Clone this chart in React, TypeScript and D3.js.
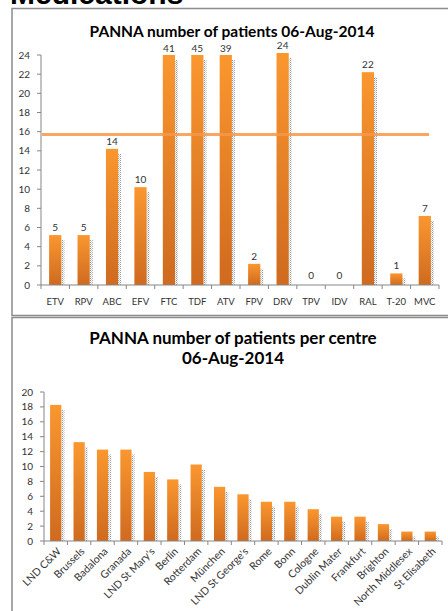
import React from "react";
import * as d3 from "d3";

const drugs = ["ETV","RPV","ABC","EFV","FTC","TDF","ATV","FPV","DRV","TPV","IDV","RAL","T-20","MVC"];
const drugPatients = [5,5,14,10,41,45,39,2,24,0,0,22,1,7];
const drugTicks = [0,2,4,6,8,10,12,14,16,18,20,22,24];
const drugMax = 24;
const referenceLine = 15.7;

const centres = ["LND C&W","Brussels","Badalona","Granada","LND St Mary's","Berlin","Rotterdam","München","LND St George's","Rome","Bonn","Cologne","Dublin Mater","Frankfurt","Brighton","North Middlesex","St Elisabeth"];
const centrePatients = [18,13,12,12,9,8,10,7,6,5,5,4,3,3,2,1,1];
const centreTicks = [0,2,4,6,8,10,12,14,16,18,20];
const centreMax = 20;

const FONT = "Lato, 'Liberation Sans', Arial, sans-serif";
const AXIS = "#868686";
const TXT = "#333";

function Bars({cats, vals, x, y, max, showLabels}) {
  const bw = x.bandwidth();
  const y0 = y(0);
  return (
    <g>
      {cats.map((c, i) => {
        const v = Math.min(vals[i], max);
        if (vals[i] <= 0) return null;
        const bx = x(c);
        const top = y(v) - (vals[i] > max ? 0 : 2);
        return (
          <g key={c}>
            <rect x={bx + bw} y={top + 5} width={3} height={y0 - top - 5} fill="url(#dots)" />
            <rect x={bx} y={top} width={bw} height={y0 - top} fill="url(#barGrad)" />
          </g>
        );
      })}
      {showLabels && cats.map((c, i) => {
        const clipped = vals[i] > max;
        const v = Math.min(vals[i], max);
        const ty = clipped ? y(v) - 3 : y(v) - 6;
        return (
          <text key={"l" + c} x={x(c) + bw / 2} y={ty} textAnchor="middle" fontSize={10} fill={TXT} fontFamily={FONT}>{vals[i]}</text>
        );
      })}
    </g>
  );
}

function YAxis({y, ticks, x0}) {
  return (
    <g>
      <line x1={x0} x2={x0} y1={y(ticks[ticks.length - 1])} y2={y(0)} stroke={AXIS} strokeWidth={1} />
      {ticks.map(t => (
        <g key={t}>
          <line x1={x0 - 4} x2={x0} y1={y(t)} y2={y(t)} stroke={AXIS} />
          <text x={x0 - 11} y={y(t) + 3.5} textAnchor="end" fontSize={10} fill={TXT} fontFamily={FONT}>{t}</text>
        </g>
      ))}
    </g>
  );
}

function XAxis({x, cats, y0}) {
  const r = x.range();
  const step = x.step();
  const edges = d3.range(cats.length + 1).map(i => r[0] + i * step);
  return (
    <g>
      <line x1={r[0]} x2={r[1]} y1={y0} y2={y0} stroke={AXIS} strokeWidth={1} />
      {edges.map((e, i) => (
        <line key={i} x1={e} x2={e} y1={y0} y2={y0 + 4} stroke={AXIS} />
      ))}
    </g>
  );
}

export default function App() {
  const x1 = d3.scaleBand().domain(drugs).range([41, 439]).paddingInner(0.57).paddingOuter(0.285);
  const y1 = d3.scaleLinear().domain([0, drugMax]).range([285, 55]);
  const x2 = d3.scaleBand().domain(centres).range([44, 442]).paddingInner(0.52).paddingOuter(0.26);
  const y2 = d3.scaleLinear().domain([0, centreMax]).range([541, 392]);

  return (
    <svg width={448} height={611} style={{position: "absolute", left: 0, top: 0, background: "#fff"}}>
      <defs>
        <linearGradient id="barGrad" x1="0" y1="0" x2="0" y2="1">
          <stop offset="0%" stopColor="#FA972F" />
          <stop offset="100%" stopColor="#CF6A1F" />
        </linearGradient>
        <pattern id="dots" width={2} height={2} patternUnits="userSpaceOnUse">
          <rect x={0} y={0} width={1} height={1} fill="#9a9a9a" />
          <rect x={1} y={1} width={1} height={1} fill="#d0d0d0" />
        </pattern>
      </defs>
      <rect width={448} height={611} fill="#fff" />
      <text x={10} y={4} fontSize={30} fontWeight="bold" fill="#000" fontFamily="'Liberation Sans', Arial, sans-serif">Medications</text>

      <rect x={12} y={8.5} width={460} height={307} fill="none" stroke="#8c8c8c" strokeWidth={1.5} />
      <rect x={12} y={317.5} width={460} height={310} fill="none" stroke="#8c8c8c" strokeWidth={1.5} />

      <text x={232} y={37} textAnchor="middle" fontSize={15.5} fontWeight="bold" fill="#000" fontFamily={FONT}>PANNA number of patients 06-Aug-2014</text>
      <YAxis y={y1} ticks={drugTicks} x0={41} />
      <Bars cats={drugs} vals={drugPatients} x={x1} y={y1} max={drugMax} showLabels={true} />
      <XAxis x={x1} cats={drugs} y0={285} />
      {drugs.map(c => (
        <text key={c} x={x1(c) + x1.bandwidth() / 2} y={305} textAnchor="middle" fontSize={9.5} fill={TXT} fontFamily={FONT}>{c}</text>
      ))}
      <line x1={42} x2={429} y1={y1(referenceLine)} y2={y1(referenceLine)} stroke="#F79646" strokeOpacity={0.85} strokeWidth={3} />

      <text x={233} y={344} textAnchor="middle" fontSize={17} fontWeight="bold" fill="#000" fontFamily={FONT}>PANNA number of patients per centre</text>
      <text x={233} y={364} textAnchor="middle" fontSize={17} fontWeight="bold" fill="#000" fontFamily={FONT}>06-Aug-2014</text>
      <YAxis y={y2} ticks={centreTicks} x0={44} />
      <Bars cats={centres} vals={centrePatients} x={x2} y={y2} max={centreMax} showLabels={false} />
      <XAxis x={x2} cats={centres} y0={541} />
      {centres.map(c => {
        const cx = x2(c) + x2.bandwidth() / 2 + 6;
        const cy = 552;
        return (
          <text key={c} x={cx} y={cy} textAnchor="end" fontSize={10.5} fill={TXT} fontFamily={FONT} transform={`rotate(-45 ${cx} ${cy})`}>{c}</text>
        );
      })}
    </svg>
  );
}
